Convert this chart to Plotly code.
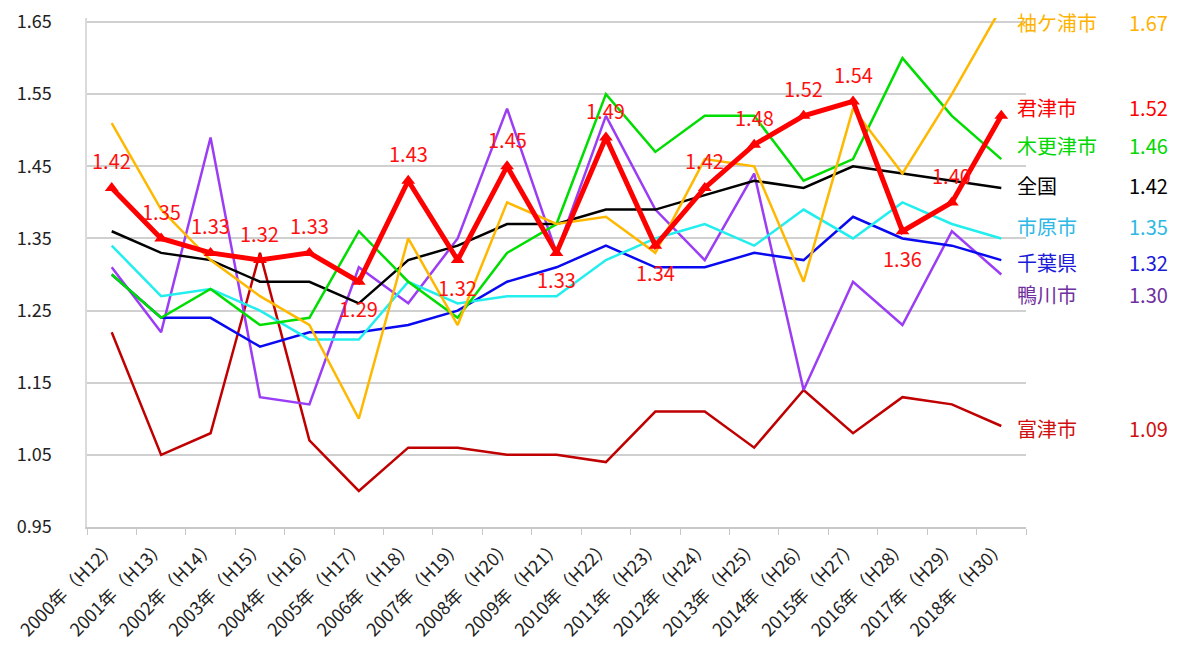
import plotly.graph_objects as go

years = ["2000年（H12）", "2001年（H13）", "2002年（H14）", "2003年（H15）", "2004年（H16）",
         "2005年（H17）", "2006年（H18）", "2007年（H19）", "2008年（H20）", "2009年（H21）",
         "2010年（H22）", "2011年（H23）", "2012年（H24）", "2013年（H25）", "2014年（H26）",
         "2015年（H27）", "2016年（H28）", "2017年（H29）", "2018年（H30）"]

kimitsu = [1.42, 1.35, 1.33, 1.32, 1.33, 1.29, 1.43, 1.32, 1.45, 1.33, 1.49, 1.34, 1.42, 1.48, 1.52, 1.54, 1.36, 1.40, 1.52]
sodegaura = [1.51, 1.39, 1.32, 1.27, 1.23, 1.10, 1.35, 1.23, 1.40, 1.37, 1.38, 1.33, 1.46, 1.45, 1.29, 1.53, 1.44, 1.55, 1.67]
kisarazu = [1.30, 1.24, 1.28, 1.23, 1.24, 1.36, 1.29, 1.24, 1.33, 1.37, 1.55, 1.47, 1.52, 1.52, 1.43, 1.46, 1.60, 1.52, 1.46]
zenkoku = [1.36, 1.33, 1.32, 1.29, 1.29, 1.26, 1.32, 1.34, 1.37, 1.37, 1.39, 1.39, 1.41, 1.43, 1.42, 1.45, 1.44, 1.43, 1.42]
ichihara = [1.34, 1.27, 1.28, 1.25, 1.21, 1.21, 1.29, 1.26, 1.27, 1.27, 1.32, 1.35, 1.37, 1.34, 1.39, 1.35, 1.40, 1.37, 1.35]
chiba = [1.30, 1.24, 1.24, 1.20, 1.22, 1.22, 1.23, 1.25, 1.29, 1.31, 1.34, 1.31, 1.31, 1.33, 1.32, 1.38, 1.35, 1.34, 1.32]
kamogawa = [1.31, 1.22, 1.49, 1.13, 1.12, 1.31, 1.26, 1.35, 1.53, 1.33, 1.52, 1.39, 1.32, 1.44, 1.14, 1.29, 1.23, 1.36, 1.30]
futtsu = [1.22, 1.05, 1.08, 1.33, 1.07, 1.00, 1.06, 1.06, 1.05, 1.05, 1.04, 1.11, 1.11, 1.06, 1.14, 1.08, 1.13, 1.12, 1.09]

y_ticks = [0.95, 1.05, 1.15, 1.25, 1.35, 1.45, 1.55, 1.65]

# label side for 君津市 data labels (+1 above, -1 below, 0 none)
kimitsu_label_side = [1, 1, 1, 1, 1, -1, 1, -1, 1, -1, 1, -1, 1, 1, 1, 1, -1, 1, 0]

FONT = "Noto Sans CJK JP, Noto Sans, sans-serif"

fig = go.Figure()

# (name, values, line colour, label colour, label y position)
others = [
    ("富津市", futtsu, "#C00000", "#D01010", 1.087),
    ("鴨川市", kamogawa, "#9B3DF5", "#7030A0", 1.272),
    ("千葉県", chiba, "#0A0AF0", "#1A1AD8", 1.317),
    ("市原市", ichihara, "#22EEEE", "#2EB8E6", 1.366),
    ("全国", zenkoku, "#000000", "#000000", 1.423),
    ("木更津市", kisarazu, "#00DD00", "#00D800", 1.479),
    ("袖ケ浦市", sodegaura, "#FFB800", "#FFB300", 1.650),
]

for name, vals, col, lcol, ly in others:
    fig.add_trace(go.Scatter(x=years, y=vals, mode="lines", name=name,
                             line=dict(color=col, width=2.5), showlegend=False))

fig.add_trace(go.Scatter(x=years, y=kimitsu, mode="lines+markers", name="君津市",
                         line=dict(color="#FF0000", width=5),
                         marker=dict(symbol="triangle-up", size=12, color="#FF0000"),
                         showlegend=False))

annotations = []
for xv, yv, side in zip(years, kimitsu, kimitsu_label_side):
    if side == 0:
        continue
    annotations.append(dict(x=xv, y=yv, xref="x", yref="y", text=f"{yv:.2f}",
                            showarrow=False, yshift=27 * side,
                            font=dict(family=FONT, size=20, color="#FF1010")))

labels = others + [("君津市", kimitsu, "#FF0000", "#FF0000", 1.532)]
for name, vals, col, lcol, ly in labels:
    annotations.append(dict(x=0.988, y=ly, xref="paper", yref="y", text=name,
                            xanchor="left", showarrow=False,
                            font=dict(family=FONT, size=20, color=lcol)))
    annotations.append(dict(x=1.153, y=ly, xref="paper", yref="y", text=f"{vals[-1]:.2f}",
                            xanchor="right", showarrow=False,
                            font=dict(family=FONT, size=20, color=lcol)))

# page body has an 8px margin; size the figure so the plot area lands at the right place
fig.update_layout(
    width=1169, height=649,
    margin=dict(l=79, r=151, t=10, b=130),
    paper_bgcolor="white", plot_bgcolor="white",
    font=dict(family=FONT, color="#222222"),
    annotations=annotations,
    xaxis=dict(type="category", range=[-0.5, 18.5], tickangle=-45,
               tickfont=dict(size=18, color="#222222"),
               showline=True, linecolor="#C8C8C8", linewidth=1.5,
               ticks="outside", tickson="boundaries", ticklen=6, tickcolor="#C8C8C8",
               showgrid=False, automargin=False, ticklabeloverflow="allow"),
    yaxis=dict(range=[0.95, 1.6556], tickvals=y_ticks,
               tickformat=".2f", tickfont=dict(size=18, color="#222222"),
               showgrid=True, gridcolor="#D0D0D0", gridwidth=1.5,
               showline=True, linecolor="#DADADA", linewidth=1.5,
               ticks="", ticklabelstandoff=30, zeroline=False, automargin=False,
               ticklabeloverflow="allow"),
)

fig.write_html("out.html")
